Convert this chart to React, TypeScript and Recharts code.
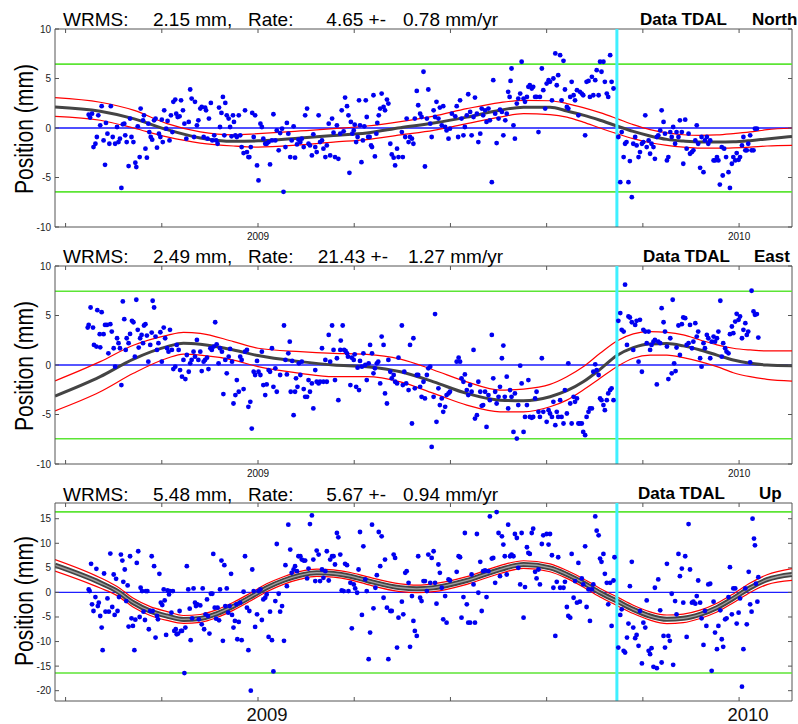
import React from "react";
import { ComposedChart, XAxis, YAxis, Scatter, Line, ReferenceLine } from "recharts";

// shared time axis (decimal years)
const X_DOMAIN: [number, number] = [2008.578, 2010.11];
const X_TICKS = [2008.6, 2008.8, 2009.0, 2009.2, 2009.4, 2009.6, 2009.8, 2010.0];
const X_LABELED = [2009, 2010];
const BREAK_T = 2009.746;

// ---------- North ----------
const NORTH_STATS = ["2.15", "4.65", "0.78"];
const NORTH_LIMITS = [-6.45, 6.45];
const NORTH_YTICKS = [-10, -5, 0, 5, 10];
const NORTH_T = [2008.578, 2008.672, 2008.741, 2008.811, 2008.88, 2008.949, 2009.0, 2009.088, 2009.157, 2009.226, 2009.296, 2009.365, 2009.434, 2009.503, 2009.552, 2009.607, 2009.642, 2009.676, 2009.711, 2009.746, 2009.78, 2009.815, 2009.85, 2009.884, 2009.919, 2009.954, 2009.988, 2010.023, 2010.058, 2010.11];
const NORTH_MID = [2.13, 1.7, 0.95, -0.17, -1.0, -1.35, -1.3, -1.0, -0.75, -0.5, 0.03, 0.5, 1.1, 1.8, 2.1, 2.1, 1.72, 1.3, 0.78, 0.2, -0.34, -0.8, -1.15, -1.32, -1.42, -1.42, -1.4, -1.28, -1.1, -0.85];
const NORTH_UP = [3.07, 2.6, 1.8, 0.44, -0.4, -0.7, -0.57, -0.3, -0.07, 0.2, 0.65, 1.2, 1.95, 2.57, 2.8, 2.75, 2.47, 2.06, 1.55, 0.95, 0.34, -0.17, -0.5, -0.68, -0.74, -0.7, -0.57, -0.4, -0.17, 0.0];
const NORTH_LO = [1.18, 0.78, 0.0, -0.9, -1.52, -1.82, -1.93, -1.7, -1.42, -1.18, -0.7, -0.24, 0.44, 1.1, 1.45, 1.35, 1.1, 0.6, 0.0, -0.57, -1.08, -1.49, -1.76, -1.93, -2.03, -2.03, -2.0, -1.93, -1.82, -1.76];
const NORTH_OBS: [number, number][] = [
  [2008.648, 1.35], [2008.651, 1.05], [2008.655, 1.45], [2008.658, -1.93], [2008.662, -1.59], [2008.665, -0.91], [2008.668, 1.28], [2008.672, 0.27], [2008.675, 2.2], [2008.679, -1.25],
  [2008.682, -3.72], [2008.684, 0.51], [2008.687, -0.57], [2008.691, -1.59], [2008.694, 2.2], [2008.698, -0.91], [2008.703, -1.59], [2008.707, 0.1], [2008.71, -1.42], [2008.713, -1.08],
  [2008.716, -6.05], [2008.719, 0.37], [2008.722, 0.44], [2008.724, -0.74], [2008.727, -1.42], [2008.731, -3.85], [2008.734, 0.95], [2008.737, -0.91], [2008.741, -1.42], [2008.745, -3.51],
  [2008.747, -3.95], [2008.75, 0.17], [2008.754, -2.94], [2008.756, 1.96], [2008.761, 0.78], [2008.763, 1.28], [2008.766, -2.09], [2008.769, -3.0], [2008.772, 0.44], [2008.774, -0.41],
  [2008.777, -0.91], [2008.78, -1.18], [2008.784, 0.78], [2008.787, 0.95], [2008.79, -1.99], [2008.794, -0.57], [2008.797, -0.91], [2008.8, 0.84], [2008.802, -1.42], [2008.805, 1.79],
  [2008.809, -0.07], [2008.812, 0.71], [2008.816, -1.25], [2008.819, 1.28], [2008.822, -0.41], [2008.824, 2.64], [2008.828, 2.87], [2008.83, 1.45], [2008.833, 1.11], [2008.837, 1.18],
  [2008.84, 2.8], [2008.844, 1.79], [2008.847, 0.44], [2008.851, -1.08], [2008.856, 0.61], [2008.859, 3.89], [2008.862, 2.97], [2008.867, -0.91], [2008.869, 2.64], [2008.873, 0.27],
  [2008.876, 0.78], [2008.88, 1.96], [2008.883, 2.13], [2008.887, -0.91], [2008.89, 2.06], [2008.892, 1.79], [2008.895, -1.08], [2008.898, 0.95], [2008.902, 2.53], [2008.905, -1.25],
  [2008.909, -0.74], [2008.913, -1.25], [2008.916, -1.59], [2008.919, 2.06], [2008.921, 0.1], [2008.924, 1.52], [2008.927, 3.14], [2008.93, -0.74], [2008.932, 2.53], [2008.935, 1.28],
  [2008.939, 0.95], [2008.942, 0.1], [2008.945, -0.84], [2008.948, 1.28], [2008.95, 0.61], [2008.953, -0.74], [2008.956, -0.91], [2008.96, 1.28], [2008.963, -0.74], [2008.966, -1.93],
  [2008.97, -2.53], [2008.973, 1.79], [2008.977, -2.43], [2008.98, -2.94], [2008.982, -2.94], [2008.985, -1.93], [2008.988, 1.52], [2008.991, -0.91], [2008.994, 1.28], [2008.998, -3.78],
  [2009.001, -5.3], [2009.005, 0.44], [2009.008, 0.1], [2009.011, -1.08], [2009.015, -1.59], [2009.018, -1.59], [2009.022, -1.42], [2009.025, -3.68], [2009.029, -1.25], [2009.032, 1.39],
  [2009.036, -1.25], [2009.039, -0.24], [2009.043, -2.26], [2009.046, -0.51], [2009.05, -0.07], [2009.053, -6.45], [2009.057, -1.93], [2009.06, 0.51], [2009.063, -0.57], [2009.067, -2.94],
  [2009.07, -1.25], [2009.074, 0.17], [2009.077, -3.0], [2009.081, -1.66], [2009.084, -1.18], [2009.088, -1.42], [2009.091, -1.08], [2009.095, -1.93], [2009.098, 1.28], [2009.102, 1.96],
  [2009.105, -1.59], [2009.108, -1.76], [2009.112, -2.77], [2009.115, -0.64], [2009.119, -1.93], [2009.122, -2.43], [2009.126, 1.28], [2009.129, -1.42], [2009.133, -1.25], [2009.136, -2.09],
  [2009.14, -2.94], [2009.143, -1.76], [2009.147, 0.44], [2009.15, -2.77], [2009.154, 0.95], [2009.157, -0.47], [2009.16, -2.94], [2009.164, 0.27], [2009.167, -3.11], [2009.171, -0.57],
  [2009.174, 1.79], [2009.178, -0.34], [2009.181, 3.07], [2009.185, 2.2], [2009.188, 1.28], [2009.19, -4.53], [2009.193, 0.61], [2009.196, -0.57], [2009.199, -0.24], [2009.201, 0.34],
  [2009.204, -1.42], [2009.207, -0.91], [2009.21, 2.8], [2009.212, 0.27], [2009.215, -3.45], [2009.218, -1.25], [2009.221, 0.17], [2009.224, 2.8], [2009.226, 1.11], [2009.229, -0.91],
  [2009.232, -0.91], [2009.235, -1.76], [2009.237, -1.93], [2009.24, 3.31], [2009.243, -2.87], [2009.246, -0.57], [2009.248, 0.51], [2009.251, 1.28], [2009.254, 1.96], [2009.257, 3.48],
  [2009.261, 2.13], [2009.264, 1.79], [2009.268, 2.87], [2009.271, 2.47], [2009.275, -1.59], [2009.278, -2.67], [2009.282, -3.0], [2009.285, -3.78], [2009.289, -2.09], [2009.292, -2.94],
  [2009.299, -0.41], [2009.301, -2.94], [2009.306, -0.91], [2009.309, 0.95], [2009.313, -1.42], [2009.316, -0.91], [2009.32, -1.08], [2009.323, -1.59], [2009.326, 0.95], [2009.33, 3.75],
  [2009.333, 2.3], [2009.337, 1.45], [2009.34, 1.11], [2009.344, 5.68], [2009.347, -3.89], [2009.351, 0.95], [2009.354, 3.89], [2009.358, 0.44], [2009.361, -0.91], [2009.365, 1.79],
  [2009.368, 1.11], [2009.371, 2.64], [2009.375, 0.95], [2009.378, 2.06], [2009.382, 0.27], [2009.385, 2.2], [2009.389, 0.1], [2009.392, -0.24], [2009.396, -1.08], [2009.399, -0.07],
  [2009.403, 1.45], [2009.41, 1.18], [2009.413, 2.2], [2009.416, -0.91], [2009.42, 2.8], [2009.423, 0.95], [2009.427, -0.74], [2009.43, 0.1], [2009.434, 1.28], [2009.437, 3.41],
  [2009.441, 1.62], [2009.444, -0.74], [2009.448, 1.11], [2009.451, 3.07], [2009.455, 1.45], [2009.458, -1.42], [2009.462, -0.57], [2009.465, 1.96], [2009.468, 1.28], [2009.472, 1.79],
  [2009.475, 0.61], [2009.479, 1.96], [2009.482, 0.78], [2009.486, -5.47], [2009.489, 4.83], [2009.493, 1.45], [2009.496, -1.52], [2009.5, 0.95], [2009.503, 1.86], [2009.507, 1.62],
  [2009.51, -0.74], [2009.514, 0.78], [2009.517, 1.45], [2009.52, 3.65], [2009.523, 3.14], [2009.525, 4.76], [2009.527, 6.01], [2009.531, 0.27], [2009.534, -1.08], [2009.538, 2.47],
  [2009.541, 2.97], [2009.545, 3.48], [2009.548, 6.69], [2009.552, 2.97], [2009.555, 2.64], [2009.559, 3.14], [2009.562, 4.16], [2009.565, 4.32], [2009.569, 3.99], [2009.572, 4.16],
  [2009.576, 3.14], [2009.579, 3.14], [2009.583, -0.41], [2009.586, 3.14], [2009.59, 6.01], [2009.593, 3.82], [2009.597, 1.96], [2009.6, 4.49], [2009.604, 4.83], [2009.607, 4.66],
  [2009.611, 2.8], [2009.614, 5.0], [2009.618, 7.53], [2009.621, 4.32], [2009.624, 5.34], [2009.628, 7.36], [2009.631, 2.8], [2009.635, 6.79], [2009.638, 3.89], [2009.642, 2.13],
  [2009.645, 1.96], [2009.649, 3.14], [2009.652, 4.66], [2009.656, 3.31], [2009.659, 2.8], [2009.663, 3.82], [2009.666, 1.28], [2009.669, 3.65], [2009.673, 3.48], [2009.676, 3.31],
  [2009.68, -0.74], [2009.683, 4.66], [2009.687, 4.76], [2009.69, 3.14], [2009.694, 5.17], [2009.697, 3.31], [2009.701, 4.83], [2009.704, 5.84], [2009.708, 3.31], [2009.711, 6.69],
  [2009.714, 5.68], [2009.718, 6.69], [2009.721, 4.66], [2009.725, 3.48], [2009.728, 3.14], [2009.732, 7.36], [2009.735, 4.66], [2009.739, 3.99],
  [2009.749, -0.91], [2009.753, -5.47], [2009.756, -0.41], [2009.76, -2.94], [2009.763, -1.59], [2009.766, -1.42], [2009.77, -5.47], [2009.773, -3.34], [2009.777, -6.99], [2009.78, -1.59],
  [2009.784, -0.91], [2009.787, -1.76], [2009.791, -2.94], [2009.794, -2.43], [2009.798, -1.59], [2009.801, -1.42], [2009.805, 1.28], [2009.808, -1.93], [2009.812, -1.25], [2009.815, -2.6],
  [2009.818, -1.59], [2009.822, -1.93], [2009.825, -3.11], [2009.829, -0.91], [2009.832, -0.74], [2009.836, -0.24], [2009.839, 1.79], [2009.843, 0.61], [2009.846, -0.57], [2009.85, -3.28],
  [2009.853, -2.94], [2009.857, -0.41], [2009.86, -0.91], [2009.863, 0.1], [2009.867, -1.59], [2009.87, -0.41], [2009.874, -0.91], [2009.877, 0.78], [2009.881, -0.41], [2009.884, -3.61],
  [2009.888, 0.84], [2009.891, -2.09], [2009.895, -0.57], [2009.898, -2.6], [2009.902, -2.43], [2009.905, -2.26], [2009.909, -1.25], [2009.912, 0.27], [2009.915, -1.59], [2009.919, -4.02],
  [2009.922, -0.91], [2009.926, -4.46], [2009.929, -1.25], [2009.933, -0.91], [2009.936, -1.59], [2009.94, -1.25], [2009.947, -3.28], [2009.95, -3.28], [2009.954, -2.94], [2009.957, -3.28],
  [2009.96, -5.71], [2009.964, -1.93], [2009.966, -4.8], [2009.969, -2.09], [2009.973, -2.94], [2009.978, -4.46], [2009.981, -6.05], [2009.985, -3.61], [2009.988, -2.94], [2009.992, -3.28],
  [2009.995, -2.53], [2009.999, -3.21], [2010.002, -2.94], [2010.006, -1.76], [2010.009, -0.91], [2010.013, -2.26], [2010.016, -2.26], [2010.019, -1.59], [2010.023, -0.74], [2010.026, -2.26],
  [2010.03, -2.26], [2010.033, -0.07], [2010.037, -0.07],
];

// ---------- East ----------
const EAST_STATS = ["2.49", "21.43", "1.27"];
const EAST_LIMITS = [-7.45, 7.45];
const EAST_YTICKS = [-10, -5, 0, 5, 10];
const EAST_T = [2008.578, 2008.672, 2008.741, 2008.811, 2008.845, 2008.88, 2008.949, 2009.0, 2009.088, 2009.157, 2009.226, 2009.296, 2009.365, 2009.434, 2009.503, 2009.552, 2009.607, 2009.642, 2009.676, 2009.711, 2009.746, 2009.78, 2009.815, 2009.85, 2009.884, 2009.919, 2009.954, 2009.988, 2010.023, 2010.058, 2010.11];
const EAST_MID = [-3.14, -1.18, 0.6, 1.86, 2.2, 2.1, 1.52, 0.95, 0.34, 0.0, -0.17, -0.68, -1.7, -2.87, -3.55, -3.6, -3.2, -2.6, -1.7, -0.44, 0.95, 1.76, 2.13, 2.16, 1.93, 1.52, 1.0, 0.5, 0.17, 0.0, -0.07];
const EAST_UP = [-1.6, 0.34, 2.0, 3.0, 3.3, 3.2, 2.36, 1.69, 1.35, 1.18, 1.08, 0.6, -0.5, -1.7, -2.53, -2.43, -1.96, -1.18, -0.17, 1.18, 2.43, 3.14, 3.38, 3.3, 3.04, 2.53, 2.03, 1.69, 1.52, 1.42, 1.42];
const EAST_LO = [-4.63, -2.7, -0.84, 0.68, 1.1, 1.0, 0.5, -0.17, -0.84, -1.18, -1.18, -1.7, -2.87, -4.05, -4.73, -4.73, -4.22, -3.55, -2.53, -1.35, -0.17, 0.68, 1.0, 1.0, 0.74, 0.34, -0.17, -0.78, -1.18, -1.45, -1.62];
const EAST_OBS: [number, number][] = [
  [2008.646, 3.78], [2008.648, 4.05], [2008.652, 5.81], [2008.657, 3.78], [2008.659, 2.03], [2008.664, 1.86], [2008.666, 5.54], [2008.671, 3.11], [2008.672, 1.79], [2008.675, 5.34],
  [2008.679, 3.11], [2008.682, 4.05], [2008.686, 4.05], [2008.689, 1.18], [2008.693, 4.12], [2008.696, 3.38], [2008.7, 1.69], [2008.703, -0.17], [2008.707, 2.7], [2008.71, 2.2],
  [2008.713, 1.69], [2008.716, -2.03], [2008.719, 6.42], [2008.722, 4.63], [2008.725, 1.52], [2008.727, 2.7], [2008.731, 2.2], [2008.734, 3.14], [2008.738, 4.46], [2008.741, 4.32],
  [2008.744, 0.84], [2008.747, 6.59], [2008.75, 3.55], [2008.752, 1.76], [2008.755, 2.7], [2008.758, 3.04], [2008.761, 2.2], [2008.763, 3.99], [2008.766, 4.12], [2008.769, 2.97],
  [2008.772, 0.34], [2008.776, 2.03], [2008.779, 3.28], [2008.781, 6.49], [2008.784, 5.81], [2008.787, 2.87], [2008.79, 1.52], [2008.793, 2.2], [2008.797, 3.31], [2008.8, 0.34],
  [2008.804, 3.78], [2008.807, 2.7], [2008.811, 1.69], [2008.814, 1.35], [2008.817, 3.55], [2008.821, 1.52], [2008.824, -0.41], [2008.828, -0.17], [2008.831, 2.03], [2008.835, 1.52],
  [2008.838, -0.51], [2008.842, -1.18], [2008.845, 0.51], [2008.849, -1.42], [2008.852, 1.01], [2008.856, -0.68], [2008.859, 0.17], [2008.862, 0.51], [2008.866, 1.35], [2008.869, 0.84],
  [2008.873, 2.53], [2008.876, 0.51], [2008.88, 1.35], [2008.883, -0.61], [2008.887, 0.34], [2008.89, 0.51], [2008.894, 0.74], [2008.897, -0.41], [2008.901, 1.69], [2008.904, 1.52],
  [2008.908, 1.86], [2008.911, 4.32], [2008.914, 2.09], [2008.918, 0.17], [2008.921, 1.69], [2008.925, 1.35], [2008.928, -2.94], [2008.932, 0.51], [2008.935, -0.84], [2008.939, 0.84],
  [2008.942, 1.62], [2008.946, 0.34], [2008.949, -3.89], [2008.953, -3.04], [2008.956, -1.52], [2008.96, -2.7], [2008.963, 0.84], [2008.966, 0.51], [2008.97, -2.43], [2008.973, 1.35],
  [2008.977, 1.52], [2008.98, -4.22], [2008.984, -3.72], [2008.987, -6.42], [2008.991, -0.68], [2008.994, -1.01], [2008.998, 0.41], [2009.001, -0.68], [2009.005, -1.01], [2009.008, 1.35],
  [2009.011, -2.03], [2009.015, -3.04], [2009.018, -1.96], [2009.022, -0.51], [2009.025, -0.68], [2009.029, 1.69], [2009.032, -2.2], [2009.036, -0.34], [2009.039, -2.7], [2009.046, -1.01],
  [2009.054, 3.99], [2009.057, 0.51], [2009.06, -0.95], [2009.063, 1.18], [2009.066, 2.36], [2009.068, -2.7], [2009.071, 0.41], [2009.074, -5.07], [2009.077, -2.7], [2009.079, -1.35],
  [2009.082, -2.2], [2009.085, 0.17], [2009.088, -1.01], [2009.091, 0.34], [2009.095, -2.43], [2009.098, -3.21], [2009.102, -3.21], [2009.105, -1.52], [2009.108, -2.7], [2009.112, -1.86],
  [2009.115, -4.39], [2009.119, -0.51], [2009.122, -1.69], [2009.126, -1.86], [2009.129, -1.69], [2009.133, 1.69], [2009.136, -1.69], [2009.14, 0.51], [2009.143, -1.69], [2009.147, 3.04],
  [2009.15, 0.34], [2009.154, 3.99], [2009.157, 1.52], [2009.16, -1.52], [2009.164, 0.68], [2009.167, -3.55], [2009.171, 1.52], [2009.172, 2.47], [2009.176, 3.99], [2009.179, 1.52],
  [2009.182, 1.42], [2009.185, 1.18], [2009.187, 0.84], [2009.192, -2.03], [2009.195, 0.74], [2009.199, 0.51], [2009.201, 1.08], [2009.204, -2.2], [2009.207, -0.27], [2009.21, -2.53],
  [2009.212, 0.41], [2009.216, -0.17], [2009.219, 1.18], [2009.223, 0.0], [2009.226, -1.52], [2009.23, 0.17], [2009.233, 2.03], [2009.237, 1.18], [2009.24, -0.84], [2009.243, -0.34],
  [2009.247, 0.17], [2009.25, 0.34], [2009.254, -1.86], [2009.257, 2.87], [2009.261, 2.03], [2009.264, -2.87], [2009.268, -3.89], [2009.271, 0.51], [2009.275, -0.68], [2009.278, -1.35],
  [2009.282, -1.01], [2009.285, -1.69], [2009.289, -1.86], [2009.292, 0.74],
  [2009.299, 3.99], [2009.301, -2.03], [2009.304, -0.68], [2009.308, -1.86], [2009.313, -2.53], [2009.316, 2.03], [2009.32, -5.91], [2009.323, 2.7], [2009.326, -2.36], [2009.33, -1.01],
  [2009.333, -1.01], [2009.337, -2.2], [2009.34, -3.21], [2009.344, -1.69], [2009.347, -3.38], [2009.351, -1.01], [2009.354, -0.34], [2009.358, -0.17], [2009.361, -8.28], [2009.365, -3.21],
  [2009.368, 5.14], [2009.371, -5.74], [2009.375, -2.36], [2009.378, -4.05], [2009.382, -3.38], [2009.385, -4.73], [2009.389, -4.22], [2009.392, -3.04], [2009.396, -2.87], [2009.399, -2.7],
  [2009.413, 0.34], [2009.417, 0.74], [2009.42, 0.34], [2009.423, -1.35], [2009.427, -1.69], [2009.43, -0.95], [2009.434, -2.53], [2009.437, -3.04], [2009.441, -2.03], [2009.444, -2.7],
  [2009.448, 1.52], [2009.451, -5.41], [2009.455, -5.07], [2009.458, -1.69], [2009.462, -2.7], [2009.465, -4.12], [2009.468, -4.05], [2009.472, -2.7], [2009.475, -6.25], [2009.479, -3.04],
  [2009.482, -3.55], [2009.486, 3.04], [2009.489, -1.35], [2009.493, -2.7], [2009.496, -3.89], [2009.5, -3.21], [2009.503, -2.2], [2009.507, 0.68], [2009.51, 1.96], [2009.513, -3.21],
  [2009.517, -1.18], [2009.52, -4.39], [2009.524, -2.53], [2009.527, -3.21], [2009.531, -6.76], [2009.534, -2.87], [2009.538, -7.43], [2009.541, -4.05], [2009.545, -0.07], [2009.548, -1.86],
  [2009.552, -6.76], [2009.555, -5.24], [2009.559, -4.05], [2009.562, -1.52], [2009.565, -5.24], [2009.569, -5.34], [2009.572, -5.24], [2009.576, -3.38], [2009.579, -2.7], [2009.583, -4.73],
  [2009.586, -5.24], [2009.59, 0.68], [2009.593, -4.73], [2009.6, -5.74], [2009.604, -4.56], [2009.607, -4.9], [2009.611, -5.24], [2009.614, -3.72], [2009.618, -6.08], [2009.621, -4.73],
  [2009.624, -5.24], [2009.628, -3.55], [2009.631, -5.24], [2009.635, -5.91], [2009.638, -2.53], [2009.642, -4.9], [2009.645, 0.17], [2009.649, -3.89], [2009.652, -5.91], [2009.656, -3.21],
  [2009.659, -3.72], [2009.663, -3.38], [2009.666, -5.91], [2009.669, -5.91], [2009.673, -5.91], [2009.676, -6.76], [2009.68, -7.09], [2009.683, -5.24], [2009.687, -4.73], [2009.69, -4.39],
  [2009.694, -4.39], [2009.697, -0.68], [2009.701, 0.07], [2009.704, -0.51], [2009.708, -1.01], [2009.711, -3.38], [2009.714, -3.55], [2009.718, -4.05], [2009.721, -4.56], [2009.725, -3.55],
  [2009.728, -2.87], [2009.732, -2.53], [2009.735, -2.36], [2009.739, -3.55],
  [2009.749, 4.46], [2009.753, 5.24], [2009.756, 3.55], [2009.76, 3.38], [2009.763, 8.11], [2009.767, 2.03], [2009.77, 4.9], [2009.773, 4.8], [2009.777, 4.32], [2009.78, 1.52],
  [2009.784, 4.05], [2009.787, 4.46], [2009.791, 0.34], [2009.794, 4.56], [2009.798, -0.68], [2009.801, 3.55], [2009.805, 3.38], [2009.808, 2.2], [2009.812, 3.38], [2009.815, 1.52],
  [2009.818, 2.03], [2009.822, 2.36], [2009.825, 2.53], [2009.829, -1.96], [2009.832, 2.36], [2009.836, 2.2], [2009.839, 5.74], [2009.843, 4.32], [2009.846, 3.38], [2009.85, 1.86],
  [2009.853, -1.42], [2009.857, 2.7], [2009.86, -0.84], [2009.862, 6.59], [2009.865, 0.17], [2009.868, -0.61], [2009.87, 1.76], [2009.874, 3.99], [2009.877, 1.01], [2009.881, 4.12],
  [2009.884, 4.8], [2009.888, 4.73], [2009.891, 2.03], [2009.895, 2.2], [2009.898, 4.05], [2009.902, 1.69], [2009.905, 2.36], [2009.909, 4.22], [2009.912, 2.87], [2009.915, 3.38],
  [2009.919, 0.68], [2009.922, -0.17], [2009.926, 2.2], [2009.929, 1.69], [2009.933, 3.04], [2009.936, 2.7], [2009.94, 0.68], [2009.943, 2.36], [2009.947, 2.87], [2009.95, 2.36],
  [2009.954, 2.7], [2009.957, 3.38], [2009.961, 6.49], [2009.964, 0.84], [2009.967, 2.2], [2009.971, 1.69], [2009.974, 1.35], [2009.978, 1.18], [2009.981, 3.11], [2009.985, 3.89],
  [2009.988, 3.21], [2009.992, 4.39], [2009.995, 5.17], [2009.999, 4.56], [2010.002, 4.9], [2010.006, 2.7], [2010.009, 3.55], [2010.013, 4.22], [2010.016, 3.04], [2010.019, 3.38],
  [2010.023, 0.27], [2010.026, 7.5], [2010.03, 5.41], [2010.033, 5.07], [2010.037, 5.14], [2010.04, 2.77],
];

// ---------- Up ----------
const UP_STATS = ["5.48", "5.67", "0.94"];
const UP_LIMITS = [-16.4, 16.4];
const UP_YTICKS = [-20, -15, -10, -5, 0, 5, 10, 15];
const UP_T = [2008.578, 2008.672, 2008.707, 2008.741, 2008.776, 2008.811, 2008.845, 2008.88, 2008.915, 2008.949, 2008.984, 2009.018, 2009.053, 2009.088, 2009.122, 2009.157, 2009.192, 2009.226, 2009.296, 2009.33, 2009.365, 2009.434, 2009.503, 2009.552, 2009.607, 2009.642, 2009.676, 2009.711, 2009.746, 2009.78, 2009.815, 2009.85, 2009.884, 2009.919, 2009.954, 2009.988, 2010.023, 2010.058, 2010.11];
const UP_MID = [5.54, 1.96, 0.27, -2.1, -3.8, -4.8, -5.5, -5.3, -4.3, -2.8, -0.95, 0.95, 2.43, 3.5, 4.0, 3.85, 3.3, 2.43, 0.95, 0.74, 0.95, 2.43, 4.66, 5.68, 5.0, 3.65, 1.96, -0.07, -1.76, -3.45, -4.8, -5.47, -5.27, -4.46, -3.1, -1.2, 0.95, 2.6, 3.65];
const UP_UP = [6.7, 3.0, 1.2, -1.2, -2.9, -3.9, -4.7, -4.5, -3.5, -2.0, -0.15, 1.75, 3.2, 4.3, 4.75, 4.6, 4.05, 3.2, 1.75, 1.5, 1.75, 3.2, 5.45, 6.45, 5.8, 4.45, 2.8, 0.8, -0.9, -2.6, -3.95, -4.6, -4.4, -3.6, -2.2, -0.3, 1.9, 3.6, 4.85];
const UP_LO = [4.35, 0.9, -0.65, -3.0, -4.7, -5.7, -6.3, -6.1, -5.1, -3.6, -1.75, 0.15, 1.65, 2.7, 3.25, 3.1, 2.55, 1.65, 0.15, -0.05, 0.15, 1.65, 3.85, 4.9, 4.2, 2.85, 1.1, -0.95, -2.65, -4.3, -5.65, -6.35, -6.15, -5.3, -4.0, -2.1, 0.0, 1.6, 2.45];
const UP_OBS: [number, number][] = [
  [2008.648, 0.61], [2008.65, 0.27], [2008.653, 5.81], [2008.655, -2.43], [2008.658, -3.78], [2008.662, -0.95], [2008.664, 4.8], [2008.667, -2.77], [2008.669, -2.09], [2008.672, -4.8],
  [2008.675, -7.16], [2008.677, -11.76], [2008.68, 3.85], [2008.683, -3.92], [2008.687, -1.22], [2008.69, -3.92], [2008.693, 7.91], [2008.697, -2.97], [2008.7, 3.65], [2008.702, -4.59],
  [2008.705, 2.77], [2008.708, -3.78], [2008.711, -0.95], [2008.715, 7.7], [2008.718, 6.49], [2008.72, 2.16], [2008.723, 4.66], [2008.726, -1.76], [2008.729, 1.42], [2008.731, -6.96],
  [2008.734, 7.36], [2008.737, -5.27], [2008.74, -6.82], [2008.743, -11.76], [2008.745, -5.54], [2008.748, 6.01], [2008.751, 8.38], [2008.754, -5.0], [2008.756, 0.95], [2008.759, 0.27],
  [2008.762, -3.92], [2008.765, -5.61], [2008.767, 0.27], [2008.77, 0.27], [2008.773, -7.5], [2008.776, -3.78], [2008.779, 7.36], [2008.781, -3.78], [2008.784, 5.34], [2008.787, -9.19],
  [2008.79, -4.8], [2008.792, -5.47], [2008.795, 3.78], [2008.798, -2.09], [2008.801, -2.57], [2008.804, 0.61], [2008.806, -1.62], [2008.809, -8.65], [2008.812, 0.41], [2008.815, -0.41],
  [2008.817, 0.27], [2008.82, -4.12], [2008.823, 0.27], [2008.826, -7.84], [2008.829, -7.5], [2008.831, -8.51], [2008.834, -8.38], [2008.837, -3.78], [2008.84, -7.84], [2008.842, -7.84],
  [2008.847, -16.42], [2008.849, -7.16], [2008.852, 5.34], [2008.855, 0.61], [2008.858, -3.31], [2008.86, -9.73], [2008.863, -5.27], [2008.866, 0.81], [2008.869, -2.09], [2008.871, -2.77],
  [2008.874, -2.43], [2008.877, -5.47], [2008.88, -2.64], [2008.883, -6.49], [2008.885, 0.81], [2008.888, -7.5], [2008.891, -4.46], [2008.894, -1.42], [2008.896, -4.8], [2008.899, -8.38],
  [2008.902, -0.27], [2008.905, -0.27], [2008.907, 7.84], [2008.91, -3.11], [2008.913, -5.34], [2008.916, -3.11], [2008.919, -5.68], [2008.921, 0.61], [2008.924, 6.49], [2008.927, -9.86],
  [2008.93, 5.54], [2008.932, -2.77], [2008.935, 0.81], [2008.938, -4.12], [2008.941, -2.77], [2008.944, 3.78], [2008.946, -4.59], [2008.949, -7.16], [2008.952, -5.81], [2008.955, -2.43],
  [2008.957, -9.53], [2008.96, -6.01], [2008.963, -2.09], [2008.966, -9.73], [2008.97, 0.14], [2008.973, 7.36], [2008.977, -3.11], [2008.98, -11.76], [2008.982, -3.78], [2008.985, -20.0],
  [2008.988, 4.66], [2008.991, 0.27], [2008.994, -7.03], [2008.998, -4.46], [2009.001, 0.27], [2009.005, 0.61], [2009.008, -5.61], [2009.011, -1.42], [2009.015, -1.08], [2009.018, -0.41],
  [2009.022, -9.05], [2009.025, -3.92], [2009.029, -9.73], [2009.032, -16.08], [2009.036, -1.76], [2009.039, 9.86], [2009.043, -0.27], [2009.046, -3.92], [2009.05, -2.77], [2009.054, -9.86],
  [2009.057, 5.54], [2009.06, 1.28], [2009.063, 13.78], [2009.067, 8.72], [2009.07, 3.99], [2009.074, 4.66], [2009.077, 5.34], [2009.081, 4.32], [2009.084, 7.36], [2009.088, 7.36],
  [2009.091, 6.69], [2009.095, 6.49], [2009.098, 6.49], [2009.102, 2.84], [2009.105, 4.86], [2009.108, 13.92], [2009.112, 15.68], [2009.115, 6.69], [2009.119, 2.3], [2009.122, 8.51],
  [2009.126, 7.7], [2009.129, 2.3], [2009.133, 4.66], [2009.136, 2.97], [2009.14, 4.32], [2009.143, 8.38], [2009.147, 2.43], [2009.15, 6.69], [2009.154, 7.36], [2009.157, 7.36],
  [2009.16, 5.68], [2009.164, 12.09], [2009.167, 11.22], [2009.171, 7.7], [2009.174, 0.41], [2009.178, 0.27], [2009.181, 5.81], [2009.185, 5.54], [2009.188, 0.27], [2009.192, 1.96],
  [2009.195, -7.3], [2009.199, 1.62], [2009.202, 0.81], [2009.206, -0.07], [2009.209, 4.66], [2009.212, 12.3], [2009.216, -4.59], [2009.219, 9.39], [2009.223, 2.64], [2009.226, 0.27],
  [2009.23, -13.58], [2009.233, -8.18], [2009.237, 13.78], [2009.24, -3.24], [2009.244, 0.95], [2009.247, 3.51], [2009.251, 12.3], [2009.254, 5.34], [2009.257, 11.42], [2009.261, -1.08],
  [2009.264, 6.69], [2009.268, -3.11], [2009.271, -13.58], [2009.275, -3.78], [2009.278, -3.78], [2009.282, 7.7], [2009.285, 7.03], [2009.289, -11.22], [2009.292, -5.14],
  [2009.299, -1.89], [2009.302, -4.46], [2009.306, 3.99], [2009.309, 4.32], [2009.313, 1.96], [2009.316, -11.08], [2009.32, -0.74], [2009.323, -5.81], [2009.326, -7.84], [2009.33, -8.85],
  [2009.333, 7.36], [2009.337, -1.08], [2009.34, -1.76], [2009.344, 2.3], [2009.347, 2.3], [2009.351, 0.27], [2009.354, 7.7], [2009.358, 1.96], [2009.361, 7.03], [2009.365, 8.38],
  [2009.368, 1.96], [2009.371, -2.3], [2009.375, 5.68], [2009.378, 3.99], [2009.382, 0.95], [2009.385, -5.47], [2009.389, -0.74], [2009.392, -6.15], [2009.396, 2.64], [2009.399, 2.43],
  [2009.413, 4.19], [2009.417, 7.36], [2009.42, 7.16], [2009.423, -5.14], [2009.427, -0.95], [2009.43, 12.09], [2009.434, -2.43], [2009.437, -6.15], [2009.441, -6.15], [2009.444, 3.65],
  [2009.448, 1.62], [2009.451, -6.15], [2009.455, 11.89], [2009.458, -0.07], [2009.462, 6.22], [2009.465, -3.78], [2009.468, 4.32], [2009.472, 4.46], [2009.475, -0.95], [2009.479, 4.32],
  [2009.482, 15.47], [2009.486, 6.89], [2009.489, 7.03], [2009.493, 1.96], [2009.496, 16.35], [2009.5, 12.09], [2009.503, 3.31], [2009.507, 11.42], [2009.51, 9.73], [2009.513, 7.36],
  [2009.517, 3.65], [2009.52, 13.78], [2009.524, 7.36], [2009.527, 7.7], [2009.531, 7.36], [2009.534, 11.89], [2009.538, 11.08], [2009.541, 5.0], [2009.545, 1.62], [2009.548, 12.09],
  [2009.552, -5.14], [2009.555, 1.08], [2009.559, 9.19], [2009.562, 8.04], [2009.565, 7.84], [2009.569, 12.09], [2009.572, 12.97], [2009.576, 4.19], [2009.579, 2.84], [2009.583, 4.66],
  [2009.586, 1.62], [2009.59, 9.86], [2009.593, 11.62], [2009.6, 11.89], [2009.604, 9.73], [2009.607, 11.89], [2009.611, 7.57], [2009.614, 0.95], [2009.618, -8.85], [2009.621, 2.16],
  [2009.624, 7.16], [2009.628, 0.95], [2009.635, 0.95], [2009.638, 2.16], [2009.642, -2.97], [2009.645, -4.8], [2009.649, -5.14], [2009.652, 7.84], [2009.656, -1.08], [2009.659, 2.3],
  [2009.663, -2.09], [2009.666, 6.01], [2009.669, -1.89], [2009.673, 2.84], [2009.676, 1.62], [2009.68, 9.39], [2009.683, -2.97], [2009.687, 0.61], [2009.69, -5.81], [2009.694, 0.61],
  [2009.697, 1.62], [2009.701, 15.47], [2009.704, 12.57], [2009.708, 11.62], [2009.711, 6.89], [2009.714, 6.22], [2009.718, 7.84], [2009.721, 3.78], [2009.725, 1.96], [2009.728, -2.43],
  [2009.732, 1.96], [2009.735, -6.82], [2009.739, 2.43], [2009.741, 7.16],
  [2009.749, -11.22], [2009.753, -4.59], [2009.756, -3.45], [2009.76, -11.89], [2009.763, -12.23], [2009.767, -9.19], [2009.77, -6.35], [2009.773, 1.28], [2009.777, 6.22], [2009.78, -7.16],
  [2009.784, -9.32], [2009.787, -8.65], [2009.791, -10.88], [2009.794, -3.78], [2009.798, -14.46], [2009.801, -6.15], [2009.805, -7.16], [2009.808, -1.62], [2009.812, -11.89], [2009.815, -12.57],
  [2009.818, -11.35], [2009.822, -15.14], [2009.825, 0.95], [2009.829, -15.41], [2009.832, 2.64], [2009.836, -3.65], [2009.839, -14.26], [2009.843, -8.85], [2009.846, -11.22], [2009.85, 5.81],
  [2009.853, -8.85], [2009.856, -9.86], [2009.86, -0.27], [2009.863, -14.73], [2009.867, -1.76], [2009.87, -4.46], [2009.874, 7.84], [2009.877, 3.31], [2009.881, 4.86], [2009.884, -2.09],
  [2009.888, 7.36], [2009.891, -9.05], [2009.895, 13.92], [2009.898, 4.66], [2009.902, -2.09], [2009.905, -1.89], [2009.909, -2.3], [2009.912, -0.74], [2009.915, 2.43], [2009.919, -2.09],
  [2009.922, -5.27], [2009.926, -10.68], [2009.929, -3.78], [2009.932, -6.82], [2009.936, 1.62], [2009.94, 1.76], [2009.943, -15.95], [2009.947, -1.89], [2009.95, -8.18], [2009.954, -11.55],
  [2009.957, -6.82], [2009.961, -3.65], [2009.964, -9.53], [2009.967, -11.08], [2009.971, -5.47], [2009.974, -5.27], [2009.978, -0.95], [2009.981, 5.14], [2009.985, -4.46], [2009.988, 0.81],
  [2009.992, 0.81], [2009.995, -6.35], [2009.999, -4.12], [2010.002, -1.22], [2010.006, -19.19], [2010.009, -11.55], [2010.013, 0.81], [2010.016, -6.49], [2010.02, 4.19], [2010.023, -2.43],
  [2010.026, -3.92], [2010.028, 15.0], [2010.031, 10.95], [2010.033, 9.59], [2010.035, 1.76], [2010.038, -1.89], [2010.04, 3.11],
];

const FONT = "'Liberation Sans', Arial, Helvetica, sans-serif";
const W = 798;
const CH = 250;
const PLOT_TOP = 29;
const PLOT_H = 198;
const PLOT_L = 55;
const PLOT_R = 792;

const panels = [
  {
    top: 0, name: "North", stats: NORTH_STATS, obs: NORTH_OBS, t: NORTH_T, mid: NORTH_MID, up: NORTH_UP, lo: NORTH_LO,
    yDomain: [-10, 10], yTicks: NORTH_YTICKS, limits: NORTH_LIMITS, zero: "#4f4fff", zeroW: 1.8, double: false, big: false,
    rateX: 386, sigX: 403, dataX: 640, nameX: 752, titleY: 26, boldY: 25, labelY: 129,
  },
  {
    top: 237, name: "East", stats: EAST_STATS, obs: EAST_OBS, t: EAST_T, mid: EAST_MID, up: EAST_UP, lo: EAST_LO,
    yDomain: [-10, 10], yTicks: EAST_YTICKS, limits: EAST_LIMITS, zero: "#1e1eff", zeroW: 1.3, double: false, big: false,
    rateX: 388, sigX: 408, dataX: 643, nameX: 754, titleY: 263, boldY: 262, labelY: 366,
  },
  {
    top: 474, name: "Up", stats: UP_STATS, obs: UP_OBS, t: UP_T, mid: UP_MID, up: UP_UP, lo: UP_LO,
    yDomain: [-22.1, 18.2], yTicks: UP_YTICKS, limits: UP_LIMITS, zero: "#1e1eff", zeroW: 1.3, double: true, big: true,
    rateX: 386, sigX: 403, dataX: 638, nameX: 759, titleY: 501, boldY: 499, labelY: 601,
  },
];

const dot = (props: any) => <circle cx={props.cx} cy={props.cy} r={2.4} fill="#0000f0" />;

function Panel({ p }: { p: any }) {
  const obsRows = p.obs.map(([t, v]: [number, number]) => ({ t, v }));
  const curveRows = p.t.map((t: number, i: number) => ({ t, mid: p.mid[i], up: p.up[i], lo: p.lo[i] }));
  const bottom = PLOT_TOP + PLOT_H;

  const xTick = (props: any) => {
    const { x, payload } = props;
    const v = payload.value;
    const lab = X_LABELED.some((l) => Math.abs(l - v) < 1e-6);
    return (
      <g>
        <line x1={x} x2={x} y1={PLOT_TOP} y2={PLOT_TOP + 4} stroke="#555" />
        <line x1={x} x2={x} y1={bottom} y2={bottom - 4} stroke="#555" />
        {lab && (
          <text x={p.big ? x + 9 : x} y={bottom + (p.big ? 20 : 13)} textAnchor="middle" fontSize={p.big ? 18.5 : 10} fill="#111" fontFamily={FONT}>
            {Math.round(v)}
          </text>
        )}
      </g>
    );
  };

  const yTick = (props: any) => {
    const { y, payload } = props;
    return (
      <g>
        <line x1={PLOT_L} x2={PLOT_L + 4} y1={y} y2={y} stroke="#555" />
        <line x1={PLOT_R - 4} x2={PLOT_R} y1={y} y2={y} stroke="#555" />
        <text x={51} y={y} dy="0.35em" textAnchor="end" fontSize={10} fill="#222" fontFamily={FONT}>
          {payload.value}
        </text>
      </g>
    );
  };

  return (
    <div style={{ position: "absolute", left: 0, top: p.top }}>
      <ComposedChart width={W} height={CH} margin={{ top: PLOT_TOP, right: W - PLOT_R, bottom: 0, left: 0 }}>
        <XAxis dataKey="t" type="number" domain={X_DOMAIN} ticks={X_TICKS} interval={0} allowDataOverflow
          height={CH - PLOT_TOP - PLOT_H} tick={xTick} tickLine={false} axisLine={{ stroke: "#555" }} />
        <YAxis type="number" domain={p.yDomain} ticks={p.yTicks} interval={0} allowDataOverflow
          width={PLOT_L} tick={yTick} tickLine={false} axisLine={{ stroke: "#555" }} />
        <ReferenceLine y={p.yDomain[1]} stroke="#555" />
        <ReferenceLine x={X_DOMAIN[1]} stroke="#555" />
        <ReferenceLine y={p.limits[1]} stroke="#5ce535" strokeWidth={1.6} />
        <ReferenceLine y={p.limits[0]} stroke="#5ce535" strokeWidth={1.6} />
        <ReferenceLine y={0} stroke={p.zero} strokeWidth={p.zeroW} />
        <Scatter data={obsRows} dataKey="v" shape={dot} isAnimationActive={false} />
        <Line data={curveRows} dataKey="up" type="monotone" stroke="#ff0000" strokeWidth={1.2} dot={false} isAnimationActive={false} />
        <Line data={curveRows} dataKey="lo" type="monotone" stroke="#ff0000" strokeWidth={1.2} dot={false} isAnimationActive={false} />
        <Line data={curveRows} dataKey="mid" type="monotone" stroke="#444" strokeWidth={p.double ? 5 : 3} dot={false} isAnimationActive={false} />
        {p.double && (
          <Line data={curveRows} dataKey="mid" type="monotone" stroke="#a0a0a0" strokeWidth={1.3} dot={false} isAnimationActive={false} />
        )}
        <ReferenceLine x={BREAK_T} stroke="#3ff0ff" strokeWidth={3} />
      </ComposedChart>
    </div>
  );
}

export default function App() {
  return (
    <div style={{ position: "absolute", left: 0, top: 0, width: W, height: 724, background: "#fff", overflow: "hidden" }}>
      {panels.map((p) => (
        <Panel key={p.name} p={p} />
      ))}
      <svg width={W} height={724} style={{ position: "absolute", left: 0, top: 0, pointerEvents: "none" }} fontFamily={FONT}>
        {panels.map((p) => (
          <g key={p.name}>
            <text x={63} y={p.titleY} fontSize={19} fill="#000">WRMS:</text>
            <text x={153} y={p.titleY} fontSize={19} fill="#000">{`${p.stats[0]} mm,`}</text>
            <text x={248} y={p.titleY} fontSize={19} fill="#000">Rate:</text>
            <text x={p.rateX} y={p.titleY} fontSize={19} fill="#000" textAnchor="end">{`${p.stats[1]} +-`}</text>
            <text x={p.sigX} y={p.titleY} fontSize={19} fill="#000">{`${p.stats[2]} mm/yr`}</text>
            <text x={p.dataX} y={p.boldY} fontSize={17} fontWeight="bold" fill="#000">Data TDAL</text>
            <text x={p.nameX} y={p.boldY} fontSize={17} fontWeight="bold" fill="#000">{p.name}</text>
            <text transform={`translate(32.5, ${p.labelY}) rotate(-90)`} textAnchor="middle" fontSize={26} fill="#000"
              textLength={130} lengthAdjust="spacingAndGlyphs">
              Position (mm)
            </text>
          </g>
        ))}
      </svg>
    </div>
  );
}
